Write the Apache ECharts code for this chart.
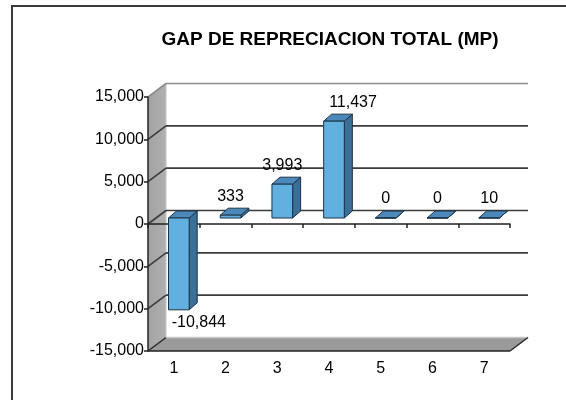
<!DOCTYPE html>
<html><head><meta charset="utf-8">
<script src="https://cdn.jsdelivr.net/npm/echarts@6/dist/echarts.min.js"></script>
<style>html,body{margin:0;padding:0;background:#fff}#c{width:566px;height:400px}</style>
</head><body><div id="c"></div>
<script>
// ---- data ----
const titleText = 'GAP DE REPRECIACION TOTAL (MP)';
const categories = ['1', '2', '3', '4', '5', '6', '7'];
const values = [-10844, 333, 3993, 11437, 0, 0, 10];
const yMin = -15000, yMax = 15000, yStep = 5000;

// ---- style ----
const labelShiftX = [20, 0, 0, 19, 0, 0, 0];
const FONT = "'Liberation Sans', Arial, sans-serif";
const DX = 18, DY = -13.5;          // depth of the 3D box
const BAR_SHIFT_X = 5, BAR_SHIFT_Y = -6; // bar front plane offset
const BDX = 8, BDY = -7;            // bar depth
const BAR_W = 0.4;

function fmt(v) {
  const s = String(Math.abs(v)).replace(/\B(?=(\d{3})+(?!\d))/g, ',');
  return (v < 0 ? '-' : '') + s;
}

function renderWalls(params, api) {
  const cs = params.coordSys;
  const x0 = cs.x, x1 = cs.x + cs.width, yT = cs.y, yB = cs.y + cs.height;
  const ch = [];
  ch.push({type: 'polygon', shape: {points: [[x0, yT], [x0 + DX, yT + DY], [x0 + DX, yB + DY], [x0, yB]]},
    style: {fill: {type: 'linear', x: 0, y: 0, x2: 1, y2: 0, colorStops: [{offset: 0, color: '#a2a2a2'}, {offset: 1, color: '#b0b0b0'}]}, stroke: null}});
  ch.push({type: 'polygon', shape: {points: [[x0, yB], [x0 + DX, yB + DY], [x1 + DX, yB + DY], [x1, yB]]},
    style: {fill: '#9a9a9a', stroke: null}});
  // floor edges
  ch.push({type: 'line', shape: {x1: x0 + DX, y1: yB + DY, x2: x1 + DX, y2: yB + DY}, style: {stroke: '#c8c8c8', lineWidth: 1.5}});
  ch.push({type: 'line', shape: {x1: x1, y1: yB, x2: x1 + DX, y2: yB + DY}, style: {stroke: '#2a2a2a', lineWidth: 1.5}});
  ch.push({type: 'line', shape: {x1: x0, y1: yB, x2: x1, y2: yB}, style: {stroke: '#222', lineWidth: 1.5}});
  ch.push({type: 'line', shape: {x1: x0, y1: yB, x2: x0 + DX, y2: yB + DY}, style: {stroke: '#2a2a2a', lineWidth: 1.5}});
  // wall back edge
  ch.push({type: 'line', shape: {x1: x0 + DX, y1: yT + DY, x2: x0 + DX, y2: yB + DY}, style: {stroke: '#c4c4c4', lineWidth: 1}});
  // grid lines
  for (let v = yMax; v > yMin; v -= yStep) {
    const y = api.coord([0, v])[1];
    const isTop = v === yMax;
    const col = isTop ? '#8c8c8c' : '#3c3c3c';
    ch.push({type: 'line', shape: {x1: x0 + DX, y1: y + DY, x2: x1 + DX, y2: y + DY}, style: {stroke: col, lineWidth: 1.6}});
    ch.push({type: 'line', shape: {x1: x0, y1: y, x2: x0 + DX, y2: y + DY}, style: {stroke: col, lineWidth: 1.6}});
  }
  return {type: 'group', children: ch};
}

function renderBar(params, api) {
  const i = api.value(0), v = api.value(1);
  const c0 = api.coord([i, 0]), c1 = api.coord([i, v]);
  const bw = api.size([1, 0])[0] * BAR_W;
  const cx = c0[0] + BAR_SHIFT_X;
  const yz = c0[1] + BAR_SHIFT_Y, yv = c1[1] + BAR_SHIFT_Y;
  const top = Math.min(yz, yv), bot = Math.max(yz, yv);
  const xl = cx - bw / 2, xr = cx + bw / 2;
  const stroke = '#1c3347';
  const ch = [
    {type: 'polygon', shape: {points: [[xr, top], [xr + BDX, top + BDY], [xr + BDX, bot + BDY], [xr, bot]]},
      style: {fill: '#3b6f97', stroke: stroke, lineWidth: 1}},
    {type: 'polygon', shape: {points: [[xl, top], [xl + BDX, top + BDY], [xr + BDX, top + BDY], [xr, top]]},
      style: {fill: '#4c89ba', stroke: stroke, lineWidth: 1}},
    {type: 'rect', shape: {x: xl, y: top, width: bw, height: bot - top},
      style: {fill: '#62b0e0', stroke: stroke, lineWidth: 1}}
  ];
  const idx = params.dataIndex;
  const ly = v >= 0 ? yv - 19 : yv + 13;
  ch.push({type: 'text', x: cx + labelShiftX[idx], y: ly,
    style: {text: fmt(v), fill: '#000', font: '16px ' + FONT, align: 'center', verticalAlign: 'middle'}});
  return {type: 'group', children: ch};
}

const chart = echarts.init(document.getElementById('c'), null, {renderer: 'canvas'});
chart.setOption({
  animation: false,
  backgroundColor: '#fff',
  graphic: [
    {type: 'polyline', shape: {points: [[12, 420], [12, 6], [580, 6]]}, style: {fill: null, stroke: '#3a3a3a', lineWidth: 2}, z: 0},
    {type: 'text', x: 330, y: 40, style: {text: titleText, font: 'bold 19px ' + FONT, fill: '#000', align: 'center', verticalAlign: 'middle'}, z: 10}
  ],
  grid: {left: 148, right: 56, top: 97, bottom: 49, containLabel: false},
  xAxis: [
    {type: 'category', data: categories, position: 'bottom', z: 1,
      axisLine: {onZero: true, lineStyle: {color: '#222', width: 1.5}},
      axisTick: {show: true, length: 4, lineStyle: {color: '#222', width: 1.5}},
      axisLabel: {show: false}, splitLine: {show: false}},
    {type: 'category', data: categories, position: 'bottom', z: 1,
      axisLine: {show: false, onZero: false}, axisTick: {show: false},
      axisLabel: {show: true, margin: 10, color: '#000', fontSize: 16, fontFamily: FONT}, splitLine: {show: false}}
  ],
  yAxis: {type: 'value', min: yMin, max: yMax, interval: yStep, z: 1,
    axisLine: {show: true, lineStyle: {color: '#222', width: 1.5}},
    axisTick: {show: true, length: 4, lineStyle: {color: '#222', width: 1.5}},
    axisLabel: {margin: 4, color: '#000', fontSize: 16, fontFamily: FONT, formatter: v => fmt(v)},
    splitLine: {show: false}},
  series: [
    {type: 'custom', z: 0, silent: true, renderItem: renderWalls, data: [[0, 0]], encode: {x: 0, y: 1}, clip: false},
    {type: 'custom', z: 2, renderItem: renderBar, clip: false,
      data: categories.map((c, i) => [c, values[i]]), encode: {x: 0, y: 1}}
  ]
});
</script>
</body></html>
